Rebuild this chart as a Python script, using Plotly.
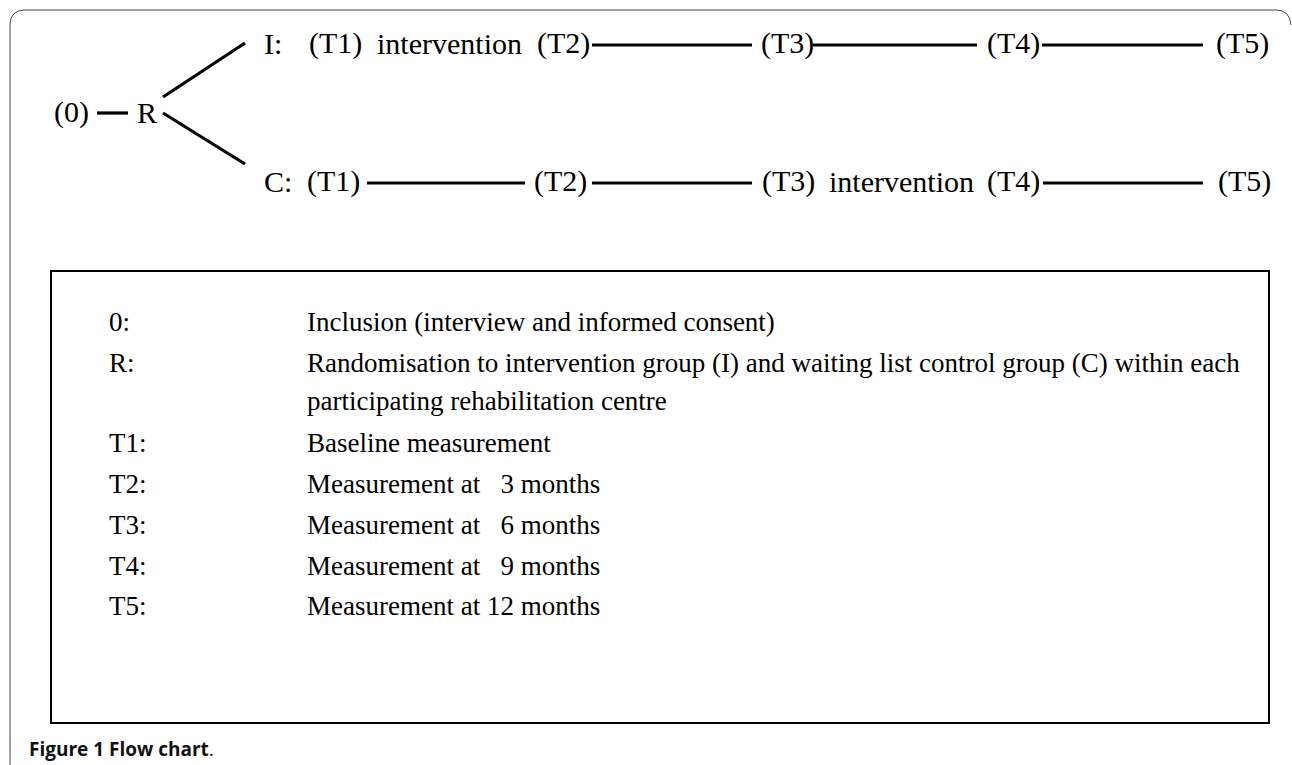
import plotly.graph_objects as go

# ---- content ----
top_tokens = ["I:", "(T1)", "intervention", "(T2)", "(T3)", "(T4)", "(T5)"]
bottom_tokens = ["C:", "(T1)", "(T2)", "(T3)", "intervention", "(T4)", "(T5)"]
root_tokens = ["(0)", "R"]
legend_keys = ["0:", "R:", "", "T1:", "T2:", "T3:", "T4:", "T5:"]
legend_texts = [
    "Inclusion (interview and informed consent)",
    "Randomisation to intervention group (I) and waiting list control group (C) within each",
    "participating rehabilitation centre",
    "Baseline measurement",
    "Measurement at\u00a0\u00a0\u00a03 months",
    "Measurement at\u00a0\u00a0\u00a06 months",
    "Measurement at\u00a0\u00a0\u00a09 months",
    "Measurement at 12 months",
]
caption_bold = "Figure 1 Flow chart"
caption_tail = "."

W, H = 1292, 765
SERIF = "Liberation Serif, Times New Roman, serif"
FS_TOP = 30
FS_BOX = 27

fig = go.Figure()
fig.add_trace(go.Scatter(x=[0, W], y=[0, H], mode="markers",
                         marker=dict(opacity=0), hoverinfo="skip", showlegend=False))

ann = []
def txt(x, y, s, anchor="left", size=FS_TOP, font=SERIF, color="#000"):
    ann.append(dict(x=x, y=y, xref="x", yref="y", text=s, showarrow=False,
                    xanchor=anchor, yanchor="middle",
                    font=dict(family=font, size=size, color=color)))

shapes = []
def seg(x0, y0, x1, y1, w=3.2, c="#000"):
    shapes.append(dict(type="line", xref="x", yref="y", x0=x0, y0=y0, x1=x1, y1=y1,
                       line=dict(color=c, width=w)))

# ---- top row (I) ----
ty = 43
txt(262, ty, top_tokens[0])
txt(307, ty, top_tokens[1])
txt(449, ty, top_tokens[2], anchor="center")
txt(592, ty, top_tokens[3], anchor="right")
txt(787, ty, top_tokens[4], anchor="center")
txt(1042, ty, top_tokens[5], anchor="right")
txt(1214, ty, top_tokens[6])
for a, b in [(592, 752), (813, 977), (1042, 1203)]:
    seg(a, 45, b, 45)

# ---- bottom row (C) ----
by = 181
txt(262, by, bottom_tokens[0])
txt(362, by, bottom_tokens[1], anchor="right")
txt(532, by, bottom_tokens[2])
txt(760, by, bottom_tokens[3])
txt(901, by, bottom_tokens[4], anchor="center")
txt(1042, by, bottom_tokens[5], anchor="right")
txt(1216, by, bottom_tokens[6])
for a, b in [(367, 525), (592, 752), (1043, 1203)]:
    seg(a, 183, b, 183)

# ---- root ----
txt(91, 112, root_tokens[0], anchor="right")
txt(147, 112, root_tokens[1], anchor="center")
seg(97, 113, 128, 113)
seg(163, 97, 245, 43)
seg(163, 113, 245, 164)

# ---- legend box ----
shapes.append(dict(type="rect", xref="x", yref="y", x0=51, y0=271, x1=1269, y1=723,
                   line=dict(color="#000", width=2)))
row_y = [322, 363, 401, 443, 484, 525, 566, 606]
for k, t, yy in zip(legend_keys, legend_texts, row_y):
    if k:
        txt(107, yy, k, size=FS_BOX)
    txt(305, yy, t, size=FS_BOX)

# ---- outer frame (rounded) ----
shapes.append(dict(type="path", xref="x", yref="y",
                   path="M 10 765 L 10 25 Q 10 10 25 10 L 1276 10 Q 1290 10 1291 25",
                   line=dict(color="#444", width=1)))

# ---- caption ----
txt(27, 749, "<b>" + caption_bold + "</b>" + caption_tail, size=19,
    font="Open Sans, Noto Sans, sans-serif", color="#111")

fig.update_layout(
    width=W, height=H, margin=dict(l=0, r=0, t=0, b=0),
    paper_bgcolor="white", plot_bgcolor="white",
    xaxis=dict(range=[0, W], visible=False, fixedrange=True),
    yaxis=dict(range=[H, 0], visible=False, fixedrange=True),
    annotations=ann, shapes=shapes, showlegend=False,
)
fig.write_html("out.html", config={"displayModeBar": False},
               post_script="document.body.style.margin='0';")
